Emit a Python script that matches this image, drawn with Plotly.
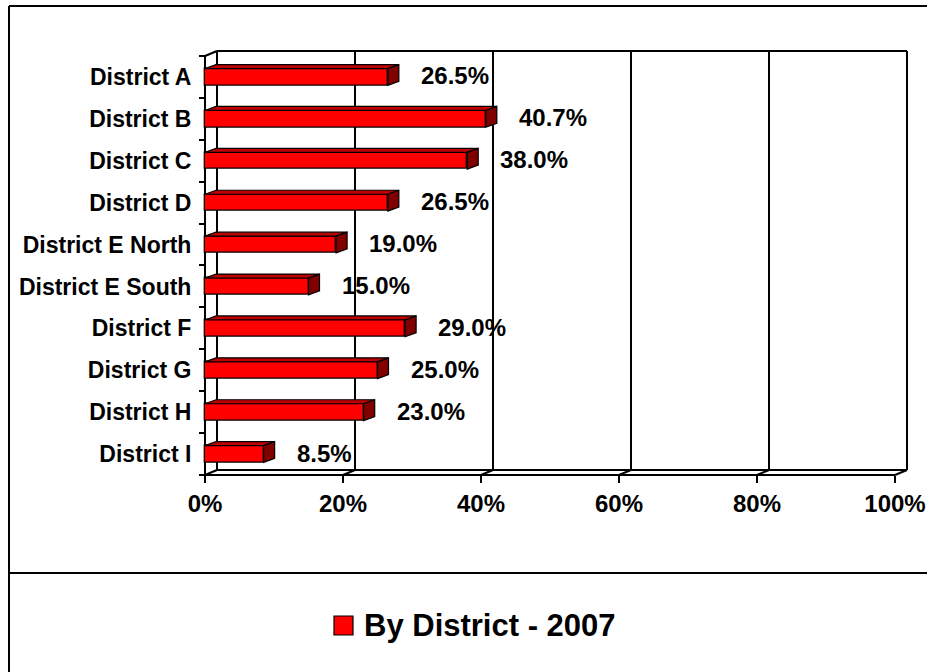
import plotly.graph_objects as go

# ---------------- data ----------------
categories = ["District A", "District B", "District C", "District D",
              "District E North", "District E South", "District F",
              "District G", "District H", "District I"]
values = [26.5, 40.7, 38.0, 26.5, 19.0, 15.0, 29.0, 25.0, 23.0, 8.5]
x_ticks = [0, 20, 40, 60, 80, 100]
x_tick_labels = ["0%", "20%", "40%", "60%", "80%", "100%"]
series_name = "By District - 2007"

# ---------------- layout constants ----------------
W, H = 927, 672
FONT = "Liberation Sans, Arial, sans-serif"
X0_PX, X100_PX = 205.0, 895.0          # front plane: 0% and 100%
YTOP_PX, YBOT_PX = 56.0, 475.0         # front plane: top / bottom of category bands
ppx = (X100_PX - X0_PX) / 100.0
n = len(categories)
ppy = (YBOT_PX - YTOP_PX) / n

DX = 12.0 / ppx       # wall depth (x, in % units)
DY = 5.0 / ppy        # wall depth (y, in category units)
BDX = 11.0 / ppx      # bar depth
BDY = 4.0 / ppy
HW = 0.2              # half bar thickness (category units)

x_lo, x_hi = -0.6, 100 + DX + 0.6
y_top, y_bot = -0.5 - DY - 0.08, n - 0.5 + 0.12

dom_x = [(X0_PX + x_lo * ppx) / W, (X0_PX + x_hi * ppx) / W]
pix_top = YTOP_PX + (y_top + 0.5) * ppy
pix_bot = YTOP_PX + (y_bot + 0.5) * ppy
dom_y = [1 - pix_bot / H, 1 - pix_top / H]

pos = list(range(n))

fig = go.Figure()

# front faces of bars
fig.add_trace(go.Bar(
    x=values, y=pos, orientation="h", width=2 * HW,
    marker=dict(color="#FF0000", line=dict(color="black", width=1.2)),
    name=series_name, showlegend=False, hoverinfo="skip",
))

# top and side faces (3-D look)
for i, v in zip(pos, values):
    t = i - HW
    b = i + HW
    fig.add_trace(go.Scatter(
        x=[0, v, v + BDX, BDX, 0], y=[t, t, t - BDY, t - BDY, t],
        mode="lines", fill="toself", fillcolor="#C00000",
        line=dict(color="black", width=1.2), showlegend=False, hoverinfo="skip"))
    fig.add_trace(go.Scatter(
        x=[v, v + BDX, v + BDX, v, v], y=[t, t - BDY, b - BDY, b, t],
        mode="lines", fill="toself", fillcolor="#800000",
        line=dict(color="black", width=1.2), showlegend=False, hoverinfo="skip"))

# ---------------- walls / floor / gridlines ----------------
shapes = []
top_f, bot_f = -0.5, n - 0.5
top_b, bot_b = top_f - DY, bot_f - DY

def seg(x0, y0, x1, y1, w=2):
    shapes.append(dict(type="line", xref="x", yref="y", x0=x0, y0=y0, x1=x1, y1=y1,
                       line=dict(color="black", width=w), layer="below"))

# back wall with gridlines
seg(DX, top_b, 100 + DX, top_b)
seg(DX, bot_b, 100 + DX, bot_b)
for xt in x_ticks:
    seg(xt + DX, top_b, xt + DX, bot_b)
# side wall
seg(0, top_f, 0, bot_f)
seg(0, top_f, DX, top_b)
# floor
seg(0, bot_f, 100, bot_f)
for xt in x_ticks:
    seg(xt, bot_f, xt + DX, bot_b)

# outer frame + legend separator
def pline(x0, y0, x1, y1, w=2):
    shapes.append(dict(type="line", xref="paper", yref="paper",
                       x0=x0 / W, y0=1 - y0 / H, x1=x1 / W, y1=1 - y1 / H,
                       line=dict(color="black", width=w)))

pline(9, 6, W + 2, 6)
pline(9, 6, 9, H + 2)
pline(9, 573, W + 2, 573)

# legend swatch
shapes.append(dict(type="rect", xref="paper", yref="paper",
                   x0=334 / W, x1=353 / W, y0=1 - 635 / H, y1=1 - 616 / H,
                   fillcolor="#FF0000", line=dict(color="black", width=1.2)))

annotations = []
for i, v in zip(pos, values):
    annotations.append(dict(
        x=v, y=i, xref="x", yref="y", text=f"{v:.1f}%", showarrow=False,
        xanchor="left", yanchor="middle", xshift=31, yshift=1,
        font=dict(family=FONT, size=24, color="black", weight="bold")))

annotations.append(dict(
    x=362 / W, y=1 - 625 / H, xref="paper", yref="paper", text=series_name,
    showarrow=False, xanchor="left", yanchor="middle",
    font=dict(family=FONT, size=31, color="black", weight="bold")))

fig.update_layout(
    width=W, height=H, autosize=False,
    margin=dict(l=0, r=0, t=0, b=0, pad=0),
    paper_bgcolor="white", plot_bgcolor="rgba(0,0,0,0)",
    showlegend=False,
    bargap=0,
    xaxis=dict(
        domain=dom_x, range=[x_lo, x_hi], anchor="free", position=1 - YBOT_PX / H,
        automargin=False,
        tickmode="array", tickvals=x_ticks, ticktext=x_tick_labels,
        ticks="outside", ticklen=7, tickwidth=1.5, tickcolor="black",
        ticklabelstandoff=0,
        showgrid=False, zeroline=False, showline=False,
        tickfont=dict(family=FONT, size=24, color="black", weight="bold"),
    ),
    yaxis=dict(
        domain=dom_y, range=[y_bot, y_top], anchor="free", position=X0_PX / W,
        automargin=False,
        tickmode="array", tickvals=pos, ticktext=categories,
        ticks="outside", ticklen=6, tickcolor="rgba(0,0,0,0)",
        ticklabelstandoff=3,
        minor=dict(tickmode="array", tickvals=[p - 0.5 for p in pos] + [n - 0.5],
                   ticks="outside", ticklen=6, tickwidth=1.5, tickcolor="black",
                   showgrid=False),
        showgrid=False, zeroline=False, showline=False,
        tickfont=dict(family=FONT, size=23, color="black", weight="bold"),
    ),
    shapes=shapes,
    annotations=annotations,
)

fig.write_html(
    "out.html",
    config={"displayModeBar": False},
    post_script="document.body.style.margin='0';document.body.style.overflow='hidden';",
)
